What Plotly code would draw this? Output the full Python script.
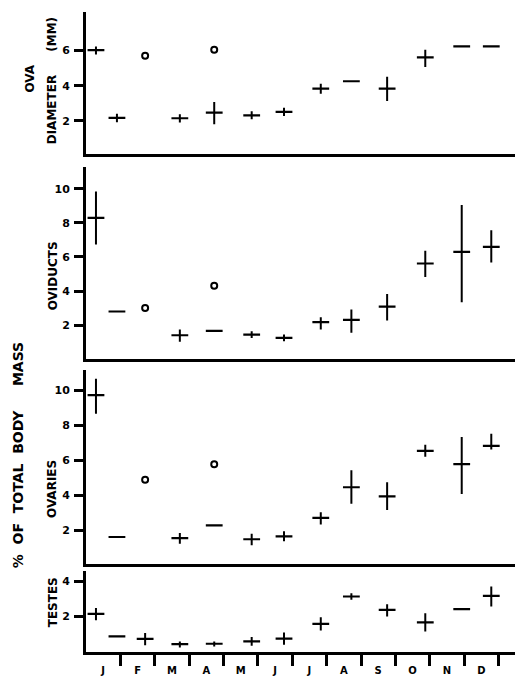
import plotly.graph_objects as go

# ---------------- data ----------------
month_labels = ["J", "F", "M", "A", "M", "J", "J", "A", "S", "O", "N", "D"]
month_centers = [0.5, 1.5, 2.5, 3.5, 4.5, 5.5, 6.5, 7.5, 8.5, 9.5, 10.5, 11.5]
month_bounds = [1, 2, 3, 4, 5, 6, 7, 8, 9, 10, 11, 12]

# sampling dates (in months from 1 January)
sample_month = [0.29, 0.90, 1.72, 2.73, 3.73, 4.82, 5.76, 6.83, 7.72, 8.76, 9.87, 10.93, 11.79]
circle_month = [1.72, 3.73]

ova_mean = [6.02, 2.17, None, 2.15, 2.47, 2.32, 2.51, 3.83, 4.25, 3.83, 5.60, 6.23, 6.23]
ova_high = [6.22, 2.40, None, 2.38, 3.07, 2.55, 2.74, 4.11, 4.25, 4.50, 6.04, 6.23, 6.23]
ova_low = [5.77, 1.92, None, 1.91, 1.81, 2.09, 2.28, 3.54, 4.25, 3.13, 5.06, 6.23, 6.23]
ova_circle = [5.70, 6.04]

oviduct_mean = [8.29, 2.81, None, 1.42, 1.67, 1.46, 1.27, 2.19, 2.32, 3.10, 5.62, 6.30, 6.59]
oviduct_high = [9.83, 2.81, None, 1.75, 1.67, 1.66, 1.47, 2.48, 2.92, 3.83, 6.37, 9.04, 7.57]
oviduct_low = [6.73, 2.81, None, 1.04, 1.67, 1.26, 1.07, 1.75, 1.57, 2.29, 4.83, 3.35, 5.68]
oviduct_circle = [3.02, 4.31]

ovary_mean = [9.72, 1.60, None, 1.54, 2.27, 1.47, 1.64, 2.70, 4.45, 3.93, 6.53, 5.77, 6.82]
ovary_high = [10.66, 1.60, None, 1.83, 2.27, 1.79, 1.93, 3.02, 5.43, 4.73, 6.88, 7.33, 7.52]
ovary_low = [8.66, 1.60, None, 1.22, 2.27, 1.13, 1.36, 2.32, 3.50, 3.15, 6.19, 4.06, 6.61]
ovary_circle = [4.88, 5.77]

testes_mean = [2.15, 0.86, 0.72, 0.42, 0.44, 0.58, 0.73, 1.58, 3.14, 2.38, 1.66, 2.42, 3.18]
testes_high = [2.48, 0.86, 1.05, 0.57, 0.57, 0.82, 1.08, 1.96, 3.33, 2.70, 2.19, 2.42, 3.71]
testes_low = [1.78, 0.86, 0.35, 0.23, 0.29, 0.32, 0.38, 1.20, 2.95, 2.00, 1.14, 2.42, 2.57]

ova_ticks = [2, 4, 6]
female_ticks = [2, 4, 6, 8, 10]
testes_ticks = [2, 4]

label_ova_1 = "OVA"
label_ova_2 = "DIAMETER"
label_ova_3 = "(MM)"
label_oviducts = "OVIDUCTS"
label_ovaries = "OVARIES"
label_testes = "TESTES"
label_mass = "%\u00a0\u00a0OF\u00a0\u00a0TOTAL\u00a0\u00a0BODY\u00a0\u00a0\u00a0\u00a0\u00a0MASS"

# ---------------- layout geometry ----------------
W, H = 515, 676
ML, MR, MT, MB = 86, 0, 0, 20
PW, PH = W - ML - MR, H - MT - MB


def fy(py):
    return (H - MB - py) / PH


def fx(px):
    return (px - ML) / PW


panels = [
    # mean, high, low, circles, ticks, range, (top px, bottom px)
    (ova_mean, ova_high, ova_low, ova_circle, ova_ticks, [0.12, 8.2], (11.7, 155)),
    (oviduct_mean, oviduct_high, oviduct_low, oviduct_circle, female_ticks, [0.0, 11.27], (168, 361.7)),
    (ovary_mean, ovary_high, ovary_low, ovary_circle, female_ticks, [0.04, 11.18], (372, 567.7)),
    (testes_mean, testes_high, testes_low, None, testes_ticks, [-0.03, 4.57], (575, 656)),
]

FONT = "DejaVu Sans"
fig = go.Figure()
layout = dict(
    width=W, height=H,
    margin=dict(l=ML, r=MR, t=MT, b=MB, pad=0),
    paper_bgcolor="white", plot_bgcolor="white",
    showlegend=False,
    font=dict(family=FONT, color="black", size=11),
)

for i, (mean, high, low, circ, ticks, yr, (top, bot)) in enumerate(panels, start=1):
    xs = "x" if i == 1 else f"x{i}"
    ys = "y" if i == 1 else f"y{i}"
    plus = [None if m is None else h - m for m, h in zip(mean, high)]
    minus = [None if m is None else m - l for m, l in zip(mean, low)]
    fig.add_trace(go.Scatter(
        x=sample_month, y=mean, xaxis=xs, yaxis=ys, mode="markers",
        marker=dict(symbol="line-ew", size=12, color="black",
                    line=dict(width=2.2, color="black")),
        error_y=dict(type="data", symmetric=False, array=plus, arrayminus=minus,
                     width=0, thickness=2, color="black"),
        hoverinfo="skip",
    ))
    if circ is not None:
        fig.add_trace(go.Scatter(
            x=circle_month, y=circ, xaxis=xs, yaxis=ys, mode="markers",
            marker=dict(symbol="circle-open", size=6, color="black",
                        line=dict(width=2, color="black")),
            hoverinfo="skip",
        ))
    xk = "xaxis" if i == 1 else f"xaxis{i}"
    yk = "yaxis" if i == 1 else f"yaxis{i}"
    xa = dict(
        domain=[0, 1], anchor=ys, range=[0, 12.48],
        showline=True, linecolor="black", linewidth=3,
        showgrid=False, zeroline=False, fixedrange=True,
    )
    if i == 4:
        xa.update(
            tickmode="array", tickvals=month_centers, ticktext=month_labels,
            ticks="", showticklabels=True, ticklabelstandoff=7,
            tickfont=dict(family=FONT, size=10, weight="bold", color="black"),
            minor=dict(tickmode="array", tickvals=month_bounds, ticks="outside",
                       ticklen=11, tickwidth=3, tickcolor="black", showgrid=False),
        )
    else:
        xa.update(showticklabels=False, ticks="")
    layout[xk] = xa
    layout[yk] = dict(
        domain=[fy(bot), fy(top)], anchor=xs, range=yr,
        showline=True, linecolor="black", linewidth=3,
        showgrid=False, zeroline=False, fixedrange=True,
        tickmode="array", tickvals=ticks, ticks="outside",
        ticklen=9, tickwidth=3, tickcolor="black",
        ticklabelstandoff=2,
        tickfont=dict(family=FONT, size=11, weight="bold", color="black"),
    )

fig.update_layout(**layout)

bold = dict(family=FONT, size=12, weight="bold", color="black")
ann = [
    (label_ova_1, 30, 79, bold),
    (label_ova_2, 52, 111, bold),
    (label_ova_3, 52, 35, bold),
    (label_oviducts, 53, 278, bold),
    (label_ovaries, 52, 492, bold),
    (label_testes, 53, 606, bold),
    (label_mass, 18, 458, dict(family=FONT, size=14, weight="bold", color="black")),
]
for text, px, py, f in ann:
    fig.add_annotation(
        text=text, xref="paper", yref="paper", x=fx(px), y=fy(py),
        xanchor="center", yanchor="middle", textangle=-90,
        showarrow=False, font=f,
    )

fig.write_html(
    "out.html",
    config={"displayModeBar": False, "staticPlot": True},
    post_script="document.body.style.margin='0';document.body.style.overflow='hidden';",
)
